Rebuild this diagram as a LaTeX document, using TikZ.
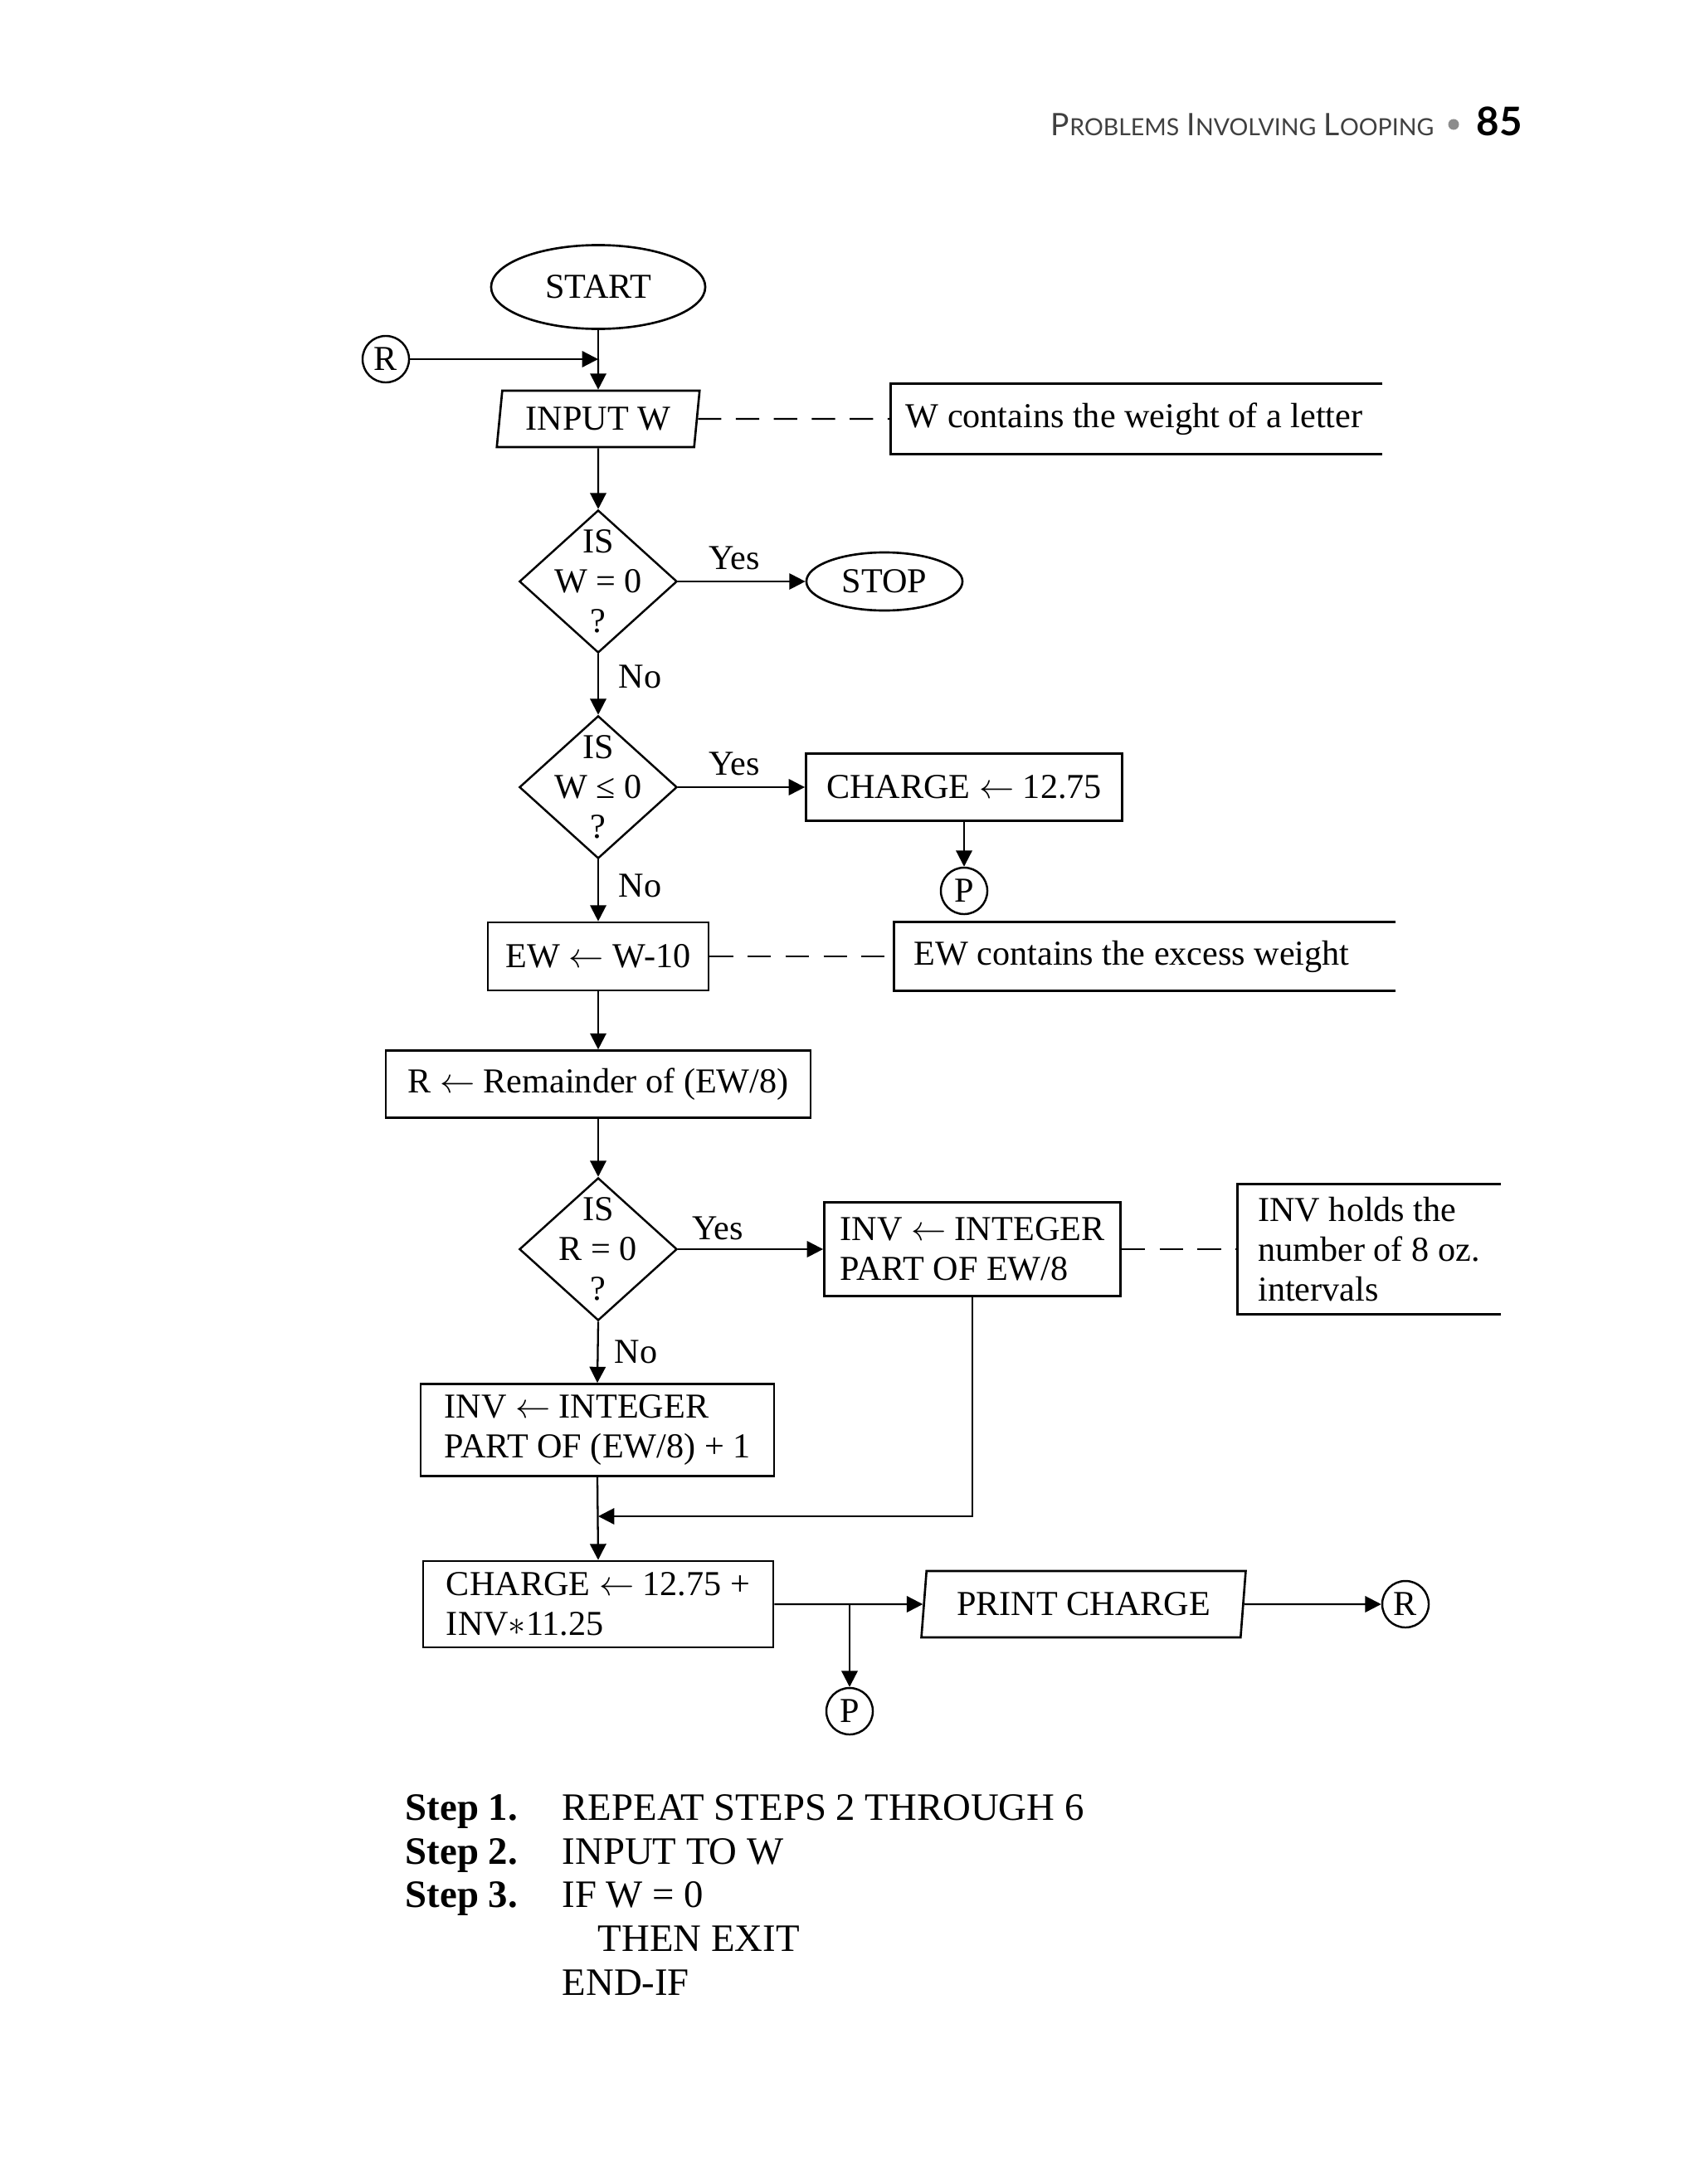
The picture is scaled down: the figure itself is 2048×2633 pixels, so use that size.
\documentclass[tikz,border=0pt]{standalone}
\usepackage{fontspec}
\setmainfont{Liberation Serif}
\newfontfamily\hdrfont{Lato}
\usetikzlibrary{shapes.geometric,arrows.meta}
\tikzset{
  base/.style={font=\fontsize{12}{13.7}\selectfont},
  arr/.style={-{Triangle[length=5.5pt,width=5.5pt]}, line width=0.65pt},
  plain/.style={line width=0.65pt},
  box/.style={base, draw, rectangle, line width=0.75pt, inner ysep=0pt, inner xsep=0pt},
  lbox/.style={box, align=left},
  cbox/.style={box, align=center},
  term/.style={base, draw, ellipse, line width=0.75pt, inner sep=0pt},
  conn/.style={base, draw, circle, line width=0.7pt, inner sep=0pt, minimum size=0.56cm},
  io/.style={base, draw, trapezium, trapezium left angle=80, trapezium right angle=100,
    trapezium stretches=true, line width=0.75pt, inner sep=0pt},
  dec/.style={draw, diamond, line width=0.7pt, inner sep=0pt, minimum width=1.9cm, minimum height=1.72cm},
  dectext/.style={base, align=center, inner sep=0pt},
  annot/.style={base, rectangle, align=left, inner sep=0pt},
  annline/.style={line width=0.95pt},
  dashline/.style={line width=0.7pt, dash pattern=on 8pt off 5pt},
  lab/.style={base, inner sep=0pt},
  steplab/.style={font=\bfseries\fontsize{13.3}{15}\selectfont, inner sep=0pt, anchor=base west},
  steptxt/.style={font=\fontsize{13.3}{15}\selectfont, inner sep=0pt, anchor=base west}
}
\begin{document}
\begin{tikzpicture}[x=0.01cm,y=-0.01cm]
\useasboundingbox (0,0) rectangle (2048,2633);
\fill[white] (0,0) rectangle (2048,2633);

% header
\node[anchor=base east, inner sep=0pt, text=black!75, font=\hdrfont\fontsize{10.6}{12}\selectfont] (hdr) at (1729,163)
  {P{\fontsize{8.1}{9}\selectfont ROBLEMS} I{\fontsize{8.1}{9}\selectfont NVOLVING} L{\fontsize{8.1}{9}\selectfont OOPING}};
\node[circle, fill=black!45, inner sep=0pt, minimum size=0.13cm] (bul) at (1752,150) {};
\node[anchor=base west, inner sep=0pt, font=\hdrfont\bfseries\fontsize{13.5}{15}\selectfont] (pg) at (1779,163) {85};

% flowchart
\node[term, minimum width=2.58cm, minimum height=1.01cm] (start) at (721,346) {START};
\node[conn] (r1) at (465,433) {R};
\coordinate (m1) at (721,433);
\node[io, minimum width=2.45cm, minimum height=0.68cm] (inp) at (721,505) {INPUT W};
\node[annot, minimum width=5.91cm, minimum height=0.83cm] (a1) at (1370,505) {W contains the weight of a letter\hspace*{0.06cm}};

\node[dec] (d1) at (721,701) {};
\node[dectext] (d1t) at (721,701) {IS\\W = 0\\?};
\node[lab] (y1) at (885,673) {Yes};
\node[term, minimum width=1.88cm, minimum height=0.70cm] (stop) at (1066,701) {STOP};
\node[lab, anchor=west] (n1) at (745,816) {No};

\node[dec] (d2) at (721,949) {};
\node[dectext] (d2t) at (721,949) {IS\\W ≤ 0\\?};
\node[lab] (y2) at (885,921) {Yes};
\node[cbox, minimum width=3.81cm, minimum height=0.81cm] (chg1) at (1162,949) {CHARGE $\leftarrow$ 12.75};
\node[conn] (p1) at (1162,1074) {P};
\node[lab, anchor=west] (n2) at (745,1068) {No};

\node[cbox, minimum width=2.66cm, minimum height=0.82cm] (ew) at (721,1153) {EW $\leftarrow$ W-10};
\node[annot, minimum width=6.03cm, minimum height=0.82cm] (a2) at (1380,1153) {EW contains the excess weight\hspace*{0.32cm}};

\node[cbox, minimum width=5.12cm, minimum height=0.81cm] (rem) at (721,1307) {R $\leftarrow$ Remainder of (EW/8)};

\node[dec] (d3) at (721,1506) {};
\node[dectext] (d3t) at (721,1506) {IS\\R = 0\\?};
\node[lab] (y3) at (865,1481) {Yes};
\node[lbox, minimum width=3.57cm, minimum height=1.13cm] (inv0) at (1172,1506) {INV $\leftarrow$ INTEGER\\PART OF EW/8};
\node[annot, minimum width=3.16cm, minimum height=1.56cm] (a3) at (1650,1506) {INV holds the\\number of 8 oz.\\intervals};
\node[lab, anchor=west] (n3) at (740,1630) {No};

\node[lbox, minimum width=4.26cm, minimum height=1.11cm] (inv1) at (720,1724) {INV $\leftarrow$ INTEGER\\PART OF (EW/8) + 1};
\coordinate (jn) at (721,1828);
\node[lbox, minimum width=4.22cm, minimum height=1.04cm] (chg2) at (721,1934) {CHARGE $\leftarrow$ 12.75 +\\INV$\ast$11.25};
\node[io, minimum width=3.92cm, minimum height=0.80cm] (print) at (1306,1934) {PRINT CHARGE};
\coordinate (br) at (1024,1934);
\node[conn] (p2) at (1024,2063) {P};
\node[conn] (r2) at (1694,1934) {R};

% connectors
\draw[plain] (start.south) -- (m1);
\draw[arr] (m1) -- (inp.north);
\draw[arr] (r1.east) -- (m1);
\draw[dashline] (inp.east) -- (a1.west);
\draw[annline] (a1.north east) -- (a1.north west) -- (a1.south west) -- (a1.south east);
\draw[arr] (inp.south) -- (d1.north);
\draw[arr] (d1.east) -- (stop.west);
\draw[arr] (d1.south) -- (d2.north);
\draw[arr] (d2.east) -- (chg1.west);
\draw[arr] (chg1.south) -- (p1.north);
\draw[arr] (d2.south) -- (ew.north);
\draw[dashline] (ew.east) -- (a2.west);
\draw[annline] (a2.north east) -- (a2.north west) -- (a2.south west) -- (a2.south east);
\draw[arr] (ew.south) -- (rem.north);
\draw[arr] (rem.south) -- (d3.north);
\draw[arr] (d3.east) -- (inv0.west);
\draw[dashline] (inv0.east) -- (a3.west);
\draw[annline] (a3.north east) -- (a3.north west) -- (a3.south west) -- (a3.south east);
\draw[arr] (d3.south) -- (inv1.north);
\draw[arr] (inv1.south) -- (chg2.north);
\draw[arr] (inv0.south) |- (jn);
\draw[arr] (chg2.east) -- (print.west);
\draw[arr] (br) -- (p2.north);
\draw[arr] (print.east) -- (r2.west);

% steps
\node[steplab] (s1) at (488,2194) {Step 1.};
\node[steplab] (s2) at (488,2247) {Step 2.};
\node[steplab] (s3) at (488,2299) {Step 3.};
\node[steptxt] (t1) at (677,2194) {REPEAT STEPS 2 THROUGH 6};
\node[steptxt] (t2) at (677,2247) {INPUT TO W};
\node[steptxt] (t3) at (677,2299) {IF W = 0};
\node[steptxt] (t4) at (720,2352) {THEN EXIT};
\node[steptxt] (t5) at (677,2405) {END-IF};
\end{tikzpicture}
\end{document}
